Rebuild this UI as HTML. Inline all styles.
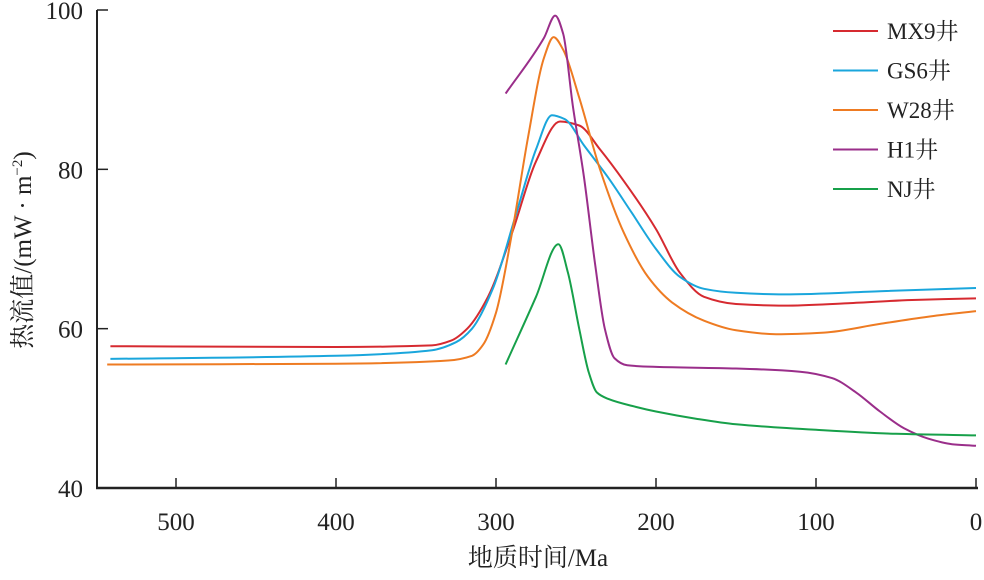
<!DOCTYPE html>
<html><head><meta charset="utf-8"><style>
body{margin:0;background:#fff;}
svg text{font-family:"Liberation Serif","Noto Serif CJK SC","Noto Sans CJK SC",serif;fill:#222;}
</style></head><body>
<svg id="chart" width="984" height="575" viewBox="0 0 984 575" xmlns="http://www.w3.org/2000/svg">
<g id="plot"></g>
<g id="axes"></g>
<g id="legend"></g>
</svg>
<script>
const xTicks=[500,400,300,200,100,0];
const yTicks=[40,60,80,100];
const seriesNames=["MX9井","GS6井","W28井","H1井","NJ井"];
const seriesColors=["#d62a30","#1aa6dc","#ee7b22","#9a2e8a","#17a04a"];
const mx9=[[541,57.8],[400,57.7],[340,57.9],[328,58.5],[318,60],[305,64],[290,72],[275,81],[260,86],[248,85.5],[235,82.5],[220,78.5],[200,72.5],[185,67],[170,64],[150,63.1],[120,62.9],[80,63.2],[40,63.6],[0,63.8]];
const gs6=[[541,56.2],[400,56.6],[340,57.3],[325,58.3],[315,60],[302,65],[288,74],[275,82.5],[265,86.8],[257,86.3],[245,83],[230,79],[215,74.5],[200,70],[185,66.5],[170,65],[150,64.5],[120,64.3],[60,64.7],[0,65.1]];
const w28=[[543,55.5],[400,55.6],[330,56],[315,56.6],[308,58],[300,62],[290,72],[280,84],[270,94],[264,96.6],[258,95],[248,89],[235,80],[220,72],[205,66.5],[190,63.3],[170,61],[150,59.8],[125,59.3],[95,59.5],[60,60.6],[30,61.5],[0,62.2]];
const h1=[[294,89.5],[270,96.5],[263,99.3],[258,97],[252,88],[245,79],[238,68],[232,60],[226,56.3],[218,55.4],[200,55.2],[150,55],[110,54.6],[90,53.8],[75,52],[60,49.6],[45,47.5],[30,46.2],[15,45.5],[0,45.3]];
const nj=[[294,55.5],[275,64],[261,70.6],[255,67],[248,60],[242,54.5],[237,52],[230,51.2],[215,50.3],[200,49.6],[175,48.7],[150,48],[100,47.3],[50,46.8],[0,46.6]];
const allSeries=[mx9,gs6,w28,h1,nj];

const X0=976,KX=1.6;
function xs(a){return X0-a*KX;}
function ys(v){return 488-(v-40)*(478/60);}
const NS="http://www.w3.org/2000/svg";
function mk(tag,attrs,parent){const e=document.createElementNS(NS,tag);for(const k in attrs)e.setAttribute(k,attrs[k]);parent.appendChild(e);return e;}
function monotone(pts){
  const p=pts.map(d=>[xs(d[0]),ys(d[1])]);
  const n=p.length;
  const dx=[],m=[];
  for(let i=0;i<n-1;i++){dx.push(p[i+1][0]-p[i][0]);m.push((p[i+1][1]-p[i][1])/dx[i]);}
  const t=new Array(n);
  t[0]=m[0];t[n-1]=m[n-2];
  for(let i=1;i<n-1;i++){
    if(m[i-1]*m[i]<=0)t[i]=0;
    else{const w1=2*dx[i]+dx[i-1],w2=dx[i]+2*dx[i-1];t[i]=(w1+w2)/(w1/m[i-1]+w2/m[i]);}
  }
  let s="M"+p[0][0].toFixed(1)+","+p[0][1].toFixed(1);
  for(let i=0;i<n-1;i++){
    const h=dx[i]/3;
    s+=" C"+(p[i][0]+h).toFixed(1)+","+(p[i][1]+t[i]*h).toFixed(1)+" "+(p[i+1][0]-h).toFixed(1)+","+(p[i+1][1]-t[i+1]*h).toFixed(1)+" "+p[i+1][0].toFixed(1)+","+p[i+1][1].toFixed(1);
  }
  return s;
}
const plot=document.getElementById('plot');
allSeries.forEach((d,i)=>{
  const e=mk('path',{d:monotone(d),fill:'none',stroke:seriesColors[i],'stroke-width':2},plot);
  
  
});
const ax=document.getElementById('axes');
const yl=mk('line',{x1:97,y1:10,x2:97,y2:488,stroke:'#222','stroke-width':2},ax);

const xl=mk('line',{x1:96,y1:488,x2:978,y2:488,stroke:'#222','stroke-width':2.5},ax);

xTicks.forEach(t=>{
  const x=xs(t);
  const l=mk('line',{x1:x,y1:478,x2:x,y2:488,stroke:'#222','stroke-width':1.5},ax);
  
  const tx=mk('text',{x:x,y:530,'text-anchor':'middle','font-size':25},ax);tx.textContent=t;
  
});
yTicks.forEach(t=>{
  const y=ys(t);
  const l=mk('line',{x1:97,y1:y,x2:108,y2:y,stroke:'#222','stroke-width':1.5},ax);
  
  const tx=mk('text',{x:83,y:y+9,'text-anchor':'end','font-size':25},ax);tx.textContent=t;
  
});
const xt=mk('text',{x:538,y:566,'text-anchor':'middle','font-size':25},ax);xt.textContent="地质时间/Ma";

const yt=mk('text',{transform:'translate(31,250) rotate(-90)','text-anchor':'middle','font-size':25},ax);
yt.innerHTML='热流值/(mW · m<tspan dy="-9" font-size="15">−2</tspan><tspan dy="9">)</tspan>';

const lg=document.getElementById('legend');
seriesNames.forEach((n,i)=>{
  const y=31+i*39.5;
  const g=mk('g',{},lg);
  
  mk('line',{x1:833,y1:y,x2:878,y2:y,stroke:seriesColors[i],'stroke-width':2},g);
  const t=mk('text',{x:887,y:y+8,'font-size':23},g);t.textContent=n;
});
</script>
</body></html>
